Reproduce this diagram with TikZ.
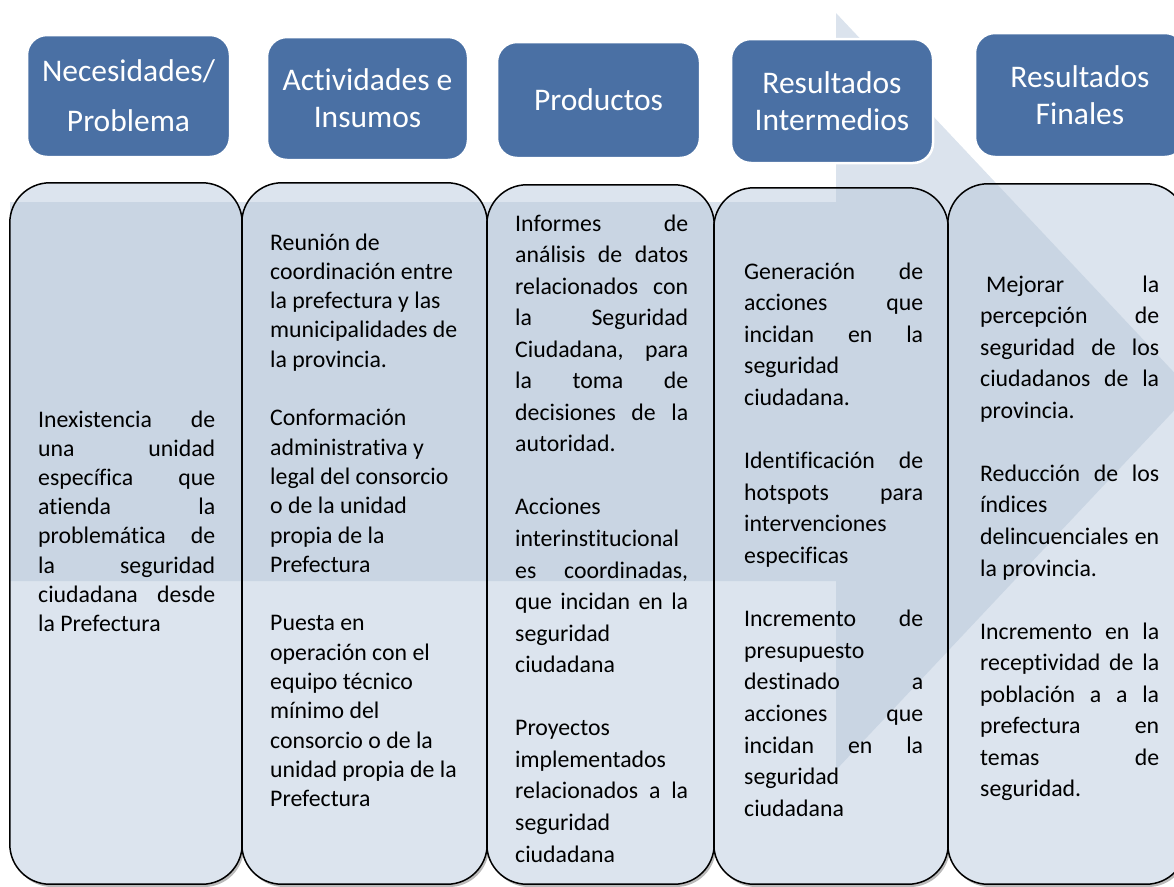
\documentclass[tikz,border=0pt]{standalone}
\usepackage{fontspec}
\setmainfont{Carlito}[Ligatures=NoCommon]
\usetikzlibrary{shadows}
\definecolor{hdr}{RGB}{74,112,164}
\definecolor{boxfill}{RGB}{220,228,238}
\definecolor{boxdark}{RGB}{201,213,227}
\definecolor{arrowcol}{RGB}{219,227,237}
\newcommand{\J}[1]{\makebox[\linewidth][s]{#1}}
\newcommand{\E}{\\ \mbox{}\\}
\begin{document}
\begin{tikzpicture}[x=1pt,y=-1pt,
  hdrbox/.style={fill=hdr, draw=white, line width=2.5pt, rounded corners=20pt, inner sep=0pt,
    text=white, align=center, font=\fontsize{31.5}{37}\selectfont},
  lowbox/.style={fill=boxfill, rounded corners=40pt, inner sep=0pt,
    drop shadow={shadow xshift=2pt, shadow yshift=-3pt, fill=black!45, opacity=0.6}},
  boxline/.style={draw=black, line width=1.5pt, rounded corners=40pt},
  bodytext/.style={anchor=base west, inner sep=0pt, text=black}]
\useasboundingbox (0,0) rectangle (1174,886);
% background arrow
\fill[arrowcol] (10,202) -- (836,202) -- (836,13) -- (1192,391.5) -- (836,770) -- (836,581) -- (10,581) -- cycle;
% lower boxes
\node[lowbox, minimum width=232pt, minimum height=701pt] (b1) at (126,533.5) {};
\node[lowbox, minimum width=245pt, minimum height=701pt] (b2) at (364.5,533.5) {};
\node[lowbox, minimum width=227pt, minimum height=699pt] (b3) at (600.5,534.5) {};
\node[lowbox, minimum width=234pt, minimum height=696pt] (b4) at (831,536) {};
\node[lowbox, minimum width=238pt, minimum height=700pt] (b5) at (1067,534) {};
\begin{scope}
  \clip (10,202) -- (836,202) -- (836,13) -- (1192,391.5) -- (836,770) -- (836,581) -- (10,581) -- cycle;
  \foreach \b in {b1,b2,b3,b4,b5}
    \fill[boxdark, rounded corners=40pt] (\b.south west) rectangle (\b.north east);
\end{scope}
\foreach \b in {b1,b2,b3,b4,b5}
  \draw[boxline] (\b.south west) rectangle (\b.north east);
% headers
\node[hdrbox, minimum width=203pt, minimum height=122pt] (h1) at (128.5,96) {Necesidades/\\[13pt]Problema};
\node[hdrbox, minimum width=201pt, minimum height=123pt] (h2) at (367.5,98.5) {Actividades e\\Insumos};
\node[hdrbox, minimum width=203pt, minimum height=116pt] (h3) at (598.5,100) {Productos};
\node[hdrbox, minimum width=202pt, minimum height=124pt] (h4) at (832,101) {Resultados\\Intermedios};
\node[hdrbox, minimum width=210pt, minimum height=124pt] (h5) at (1080,95) {Resultados\\Finales};
% body texts
\node[bodytext] (t1) at (38,427) {\parbox[t]{177pt}{\fontsize{23.8}{29.2}\selectfont
\J{Inexistencia de}\\
\J{una unidad}\\
\J{específica que}\\
\J{atienda la}\\
\J{problemática de}\\
\J{la seguridad}\\
\J{ciudadana desde}\\
la Prefectura}};
\node[bodytext] (t2) at (270,250) {\parbox[t]{200pt}{\fontsize{23.8}{29.3}\selectfont
Reunión de\\
coordinación entre\\
la prefectura y las\\
municipalidades de\\
la provincia.\E
Conformación\\
administrativa y\\
legal del consorcio\\
o de la unidad\\
propia de la\\
Prefectura\E
Puesta en\\
operación con el\\
equipo técnico\\
mínimo del\\
consorcio o de la\\
unidad propia de la\\
Prefectura}};
\node[bodytext] (t3) at (515,231) {\parbox[t]{173pt}{\fontsize{23.8}{31.55}\selectfont
\J{Informes de}\\
\J{análisis de datos}\\
\J{relacionados con}\\
\J{la Seguridad}\\
\J{Ciudadana, para}\\
\J{la toma de}\\
\J{decisiones de la}\\
autoridad.\E
Acciones\\
interinstitucional\\
\J{es coordinadas,}\\
\J{que incidan en la}\\
seguridad\\
ciudadana\E
Proyectos\\
implementados\\
\J{relacionados a la}\\
seguridad\\
ciudadana}};
\node[bodytext] (t4) at (744,279) {\parbox[t]{179pt}{\fontsize{23.8}{31.6}\selectfont
\J{Generación de}\\
\J{acciones que}\\
\J{incidan en la}\\
seguridad\\
ciudadana.\E
\J{Identificación de}\\
\J{hotspots para}\\
intervenciones\\
especificas\E
\J{Incremento de}\\
presupuesto\\
\J{destinado a}\\
\J{acciones que}\\
\J{incidan en la}\\
seguridad\\
ciudadana}};
\node[bodytext] (t5) at (980,292) {\parbox[t]{179pt}{\fontsize{23.8}{31.56}\selectfont
\J{\hspace{6pt}Mejorar la}\\
\J{percepción de}\\
\J{seguridad de los}\\
\J{ciudadanos de la}\\
provincia.\E
\J{Reducción de los}\\
índices\\
\J{delincuenciales en}\\
la provincia.\E
\J{Incremento en la}\\
\J{receptividad de la}\\
\J{población a a la}\\
\J{prefectura en}\\
\J{temas de}\\
seguridad.}};
\end{tikzpicture}
\end{document}
